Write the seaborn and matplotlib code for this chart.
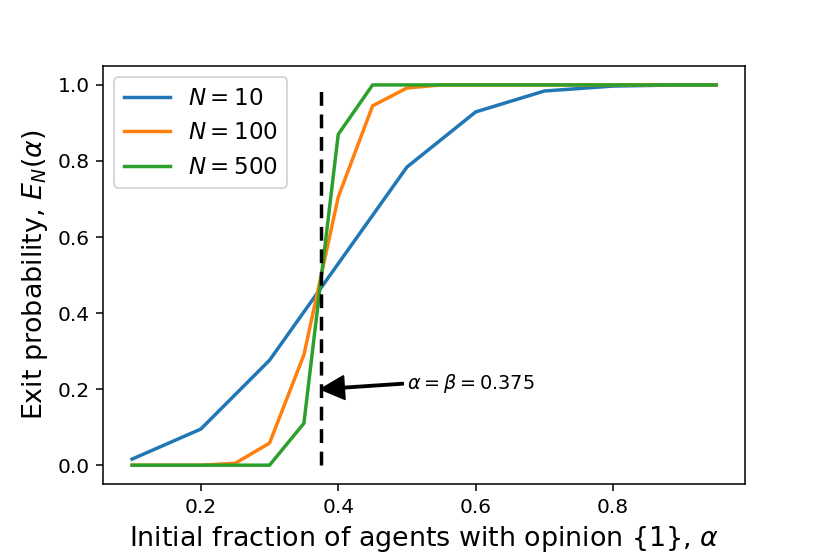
import numpy as np
import pandas as pd
import seaborn as sns
import matplotlib
matplotlib.use("Agg")
import matplotlib.pyplot as plt

# Data
x_n10 = [0.1, 0.2, 0.3, 0.4, 0.5, 0.6, 0.7, 0.8, 0.9, 0.95]
y_n10 = [0.016, 0.095, 0.276, 0.53, 0.784, 0.929, 0.984, 0.997, 1.0, 1.0]

x_fine = [0.1, 0.15, 0.2, 0.25, 0.3, 0.35, 0.4, 0.45, 0.5, 0.55, 0.6, 0.65,
          0.7, 0.75, 0.8, 0.85, 0.9, 0.95]
y_n100 = [0.0, 0.0, 0.0, 0.005, 0.058, 0.29, 0.705, 0.945, 0.992, 1.0, 1.0, 1.0,
          1.0, 1.0, 1.0, 1.0, 1.0, 1.0]
y_n500 = [0.0, 0.0, 0.0, 0.0, 0.0, 0.11, 0.87, 1.0, 1.0, 1.0, 1.0, 1.0,
          1.0, 1.0, 1.0, 1.0, 1.0, 1.0]

labels = ["$N = 10$", "$N = 100$", "$N = 500$"]
beta = 0.375

df = pd.concat([
    pd.DataFrame({"alpha": x_n10, "E": y_n10, "N": labels[0]}),
    pd.DataFrame({"alpha": x_fine, "E": y_n100, "N": labels[1]}),
    pd.DataFrame({"alpha": x_fine, "E": y_n500, "N": labels[2]}),
], ignore_index=True)

fig, ax = plt.subplots(figsize=(6, 4.005), dpi=138.33)
fig.subplots_adjust(left=0.124, right=0.898, top=0.881, bottom=0.126)

sns.lineplot(data=df, x="alpha", y="E", hue="N", hue_order=labels,
             palette=["#1f77b4", "#ff7f0e", "#2ca02c"], linewidth=1.8, ax=ax)

ax.vlines(beta, 0, 1, colors="black", linestyles=(0, (4, 2.5)), linewidth=1.8)
ax.annotate(r"$\alpha = \beta = 0.375$", xy=(beta, 0.2), xytext=(0.5, 0.215),
            ha="left", va="center", fontsize=10,
            arrowprops=dict(facecolor="black", width=1, headwidth=12,
                            headlength=12, shrink=0.0))

ax.set_xlabel(r"Initial fraction of agents with opinion {1}, $\alpha$", fontsize=14)
ax.set_ylabel(r"Exit probability, $E_N(\alpha)$", fontsize=14)
ax.set_xticks([0.2, 0.4, 0.6, 0.8])
ax.set_yticks([0.0, 0.2, 0.4, 0.6, 0.8, 1.0])
ax.tick_params(labelsize=10.5)
ax.legend(loc="upper left", fontsize=12, title=None)

fig.savefig("out.png", dpi=138.33)
